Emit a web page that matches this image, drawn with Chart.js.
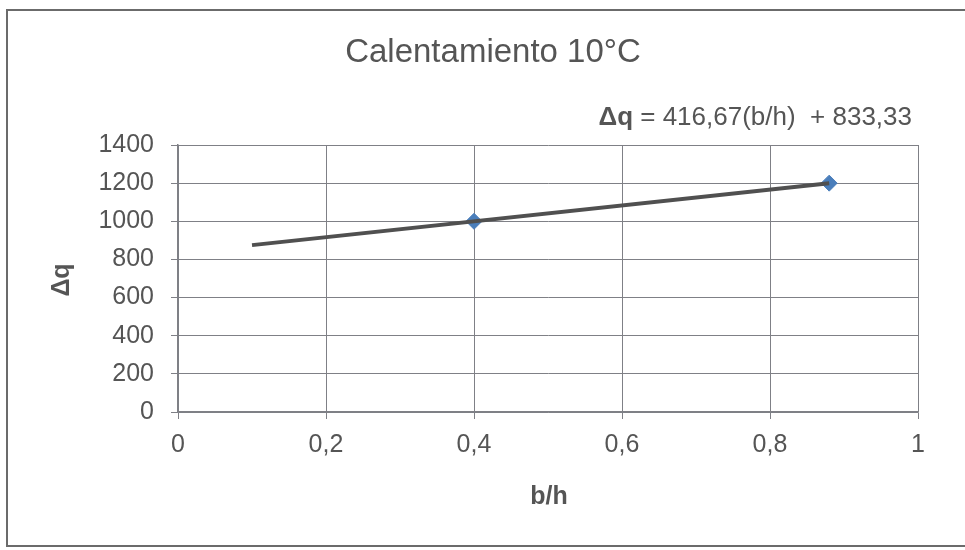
<!DOCTYPE html>
<html>
<head>
<meta charset="utf-8">
<script src="https://cdn.jsdelivr.net/npm/chart.js@4"></script>
<style>
  html, body { margin: 0; padding: 0; background: #fff; }
  #wrap { width: 965px; height: 550px; }
</style>
</head>
<body>
<div id="wrap"><canvas id="chart" width="965" height="550"></canvas></div>
<script>
// data
const bh = [0.4, 0.88];
const dq = [1000, 1200];
// trendline end points (Excel linear trend, forecast back to 0.1)
const trendX = [0.1, 0.88];
const trendY = [875, 1200];
const xTickLabels = ['0', '0,2', '0,4', '0,6', '0,8', '1'];
const yTicks = [0, 200, 400, 600, 800, 1000, 1200, 1400];

const chartTitle = 'Calentamiento 10°C';
const eqLeft = 'Δq';
const eqRight = ' = 416,67(b/h)  + 833,33';

const FONT = '"Liberation Sans", Arial, sans-serif';
const textGray = '#555555';
const gridGray = '#7f8086';

// draws frame, title, equation and axis titles
const decorations = {
  id: 'decorations',
  afterDraw(chart) {
    const c = chart.ctx;
    c.save();
    c.strokeStyle = '#6b6b6b';
    c.lineWidth = 2;
    c.strokeRect(7, 10, 970, 536);

    c.fillStyle = textGray;
    c.textBaseline = 'middle';
    c.textAlign = 'center';
    c.font = '33px ' + FONT;
    c.fillText(chartTitle, 493, 53);

    // equation, right aligned
    c.font = '26px ' + FONT;
    const wR = c.measureText(eqRight).width;
    c.font = 'bold 26px ' + FONT;
    const wL = c.measureText(eqLeft).width;
    const right = 912;
    c.textAlign = 'left';
    c.fillText(eqLeft, right - wR - wL, 118);
    c.font = '26px ' + FONT;
    c.fillText(eqRight, right - wR, 118);

    // axis titles
    c.textAlign = 'center';
    c.font = 'bold 25px ' + FONT;
    c.fillText('b/h', 549, 497);
    c.translate(62, 280);
    c.rotate(-Math.PI / 2);
    c.fillText('Δq', 0, 0);
    c.restore();
  }
};

new Chart(document.getElementById('chart'), {
  type: 'scatter',
  data: {
    datasets: [
      {
        label: 'tendencia',
        type: 'line',
        data: trendX.map((x, i) => ({ x: x, y: trendY[i] })),
        borderColor: '#505050',
        borderWidth: 4,
        pointRadius: 0,
        fill: false
      },
      {
        label: 'Δq',
        data: bh.map((x, i) => ({ x: x, y: dq[i] })),
        pointStyle: 'rectRot',
        pointRadius: 8,
        backgroundColor: '#4a7ebb',
        borderColor: '#4a7ebb'
      }
    ]
  },
  options: {
    responsive: false,
    animation: false,
    layout: { padding: { left: 20, right: 47, top: 145, bottom: 0 } },
    plugins: {
      legend: { display: false },
      tooltip: { enabled: false }
    },
    scales: {
      x: {
        type: 'linear',
        min: 0,
        max: 1,
        afterFit: (s) => { s.height = 138; },
        afterBuildTicks: (s) => { s.ticks = xTickLabels.map((t, i) => ({ value: i * 0.2 })); },
        ticks: {
          callback: (v, i) => xTickLabels[i],
          color: textGray,
          font: { family: FONT, size: 25 },
          padding: 11,
          maxRotation: 0
        },
        grid: { color: gridGray, lineWidth: 1, tickLength: 7 },
        border: { color: gridGray, width: 1.5 }
      },
      y: {
        min: 0,
        max: 1400,
        afterFit: (s) => { s.width = 158; },
        afterBuildTicks: (s) => { s.ticks = yTicks.map((v) => ({ value: v })); },
        ticks: {
          callback: (v) => String(v),
          color: textGray,
          font: { family: FONT, size: 25 },
          padding: 17
        },
        grid: { color: gridGray, lineWidth: 1, tickLength: 7 },
        border: { color: gridGray, width: 1.5 }
      }
    }
  },
  plugins: [decorations]
});
</script>
</body>
</html>
